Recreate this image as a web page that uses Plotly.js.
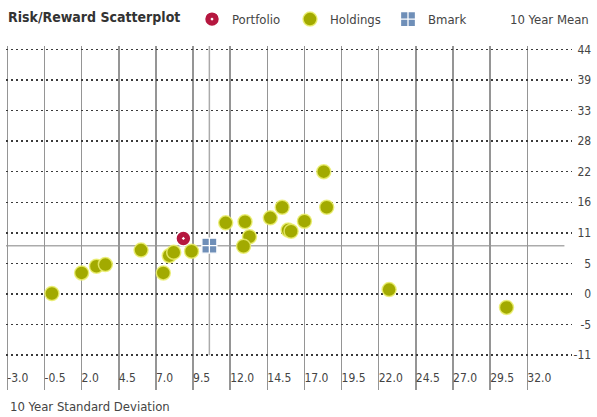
<!DOCTYPE html>
<html>
<head>
<meta charset="utf-8">
<script src="https://cdn.plot.ly/plotly-3.0.1.min.js"></script>
<style>
  html, body { margin: 0; padding: 0; background: #fff; }
  #chart { width: 597px; height: 417px; }
</style>
</head>
<body>
<div id="chart"></div>
<script>
// ---- data ----
const holdingsStd = [0.0, 2.0, 3.0, 3.6, 6.0, 7.5, 7.9, 8.2, 9.4, 11.7, 13.0, 13.3, 12.9, 14.7, 15.5, 15.9, 16.1, 18.3, 18.5, 17.0, 22.7, 30.6];
const holdingsRet = [0.1, 3.8, 5.0, 5.3, 7.9, 3.8, 6.9, 7.5, 7.7, 12.8, 13.0, 10.3, 8.6, 13.7, 15.6, 11.5, 11.3, 22.0, 15.6, 13.1, 0.8, -2.4];
const portfolioStd = [8.85];
const portfolioRet = [10.0];
const bmarkStd = [10.6];
const bmarkRet = [8.7];
const xTickVals = [-3.0, -0.5, 2.0, 4.5, 7.0, 9.5, 12.0, 14.5, 17.0, 19.5, 22.0, 24.5, 27.0, 29.5, 32.0];
const xTickText = ["-3.0", "-0.5", "2.0", "4.5", "7.0", "9.5", "12.0", "14.5", "17.0", "19.5", "22.0", "24.5", "27.0", "29.5", "32.0"];
const yTickVals = [44, 38.5, 33, 27.5, 22, 16.5, 11, 5.5, 0, -5.5, -11];
const yTickText = ["44", "39", "33", "28", "22", "16", "11", "5", "0", "-5", "-11"];

const FONT = '"Liberation Sans Narrow", "DejaVu Sans Condensed", "Roboto", sans-serif';
const xRange = [-3.09, 35.01];
const yRange = [-17.25, 44.6];

const traces = [
  {
    type: 'scatter', mode: 'markers', name: 'Portfolio',
    x: portfolioStd, y: portfolioRet,
    marker: { symbol: 'circle-dot', size: 15, color: '#b5173f', line: { color: '#ffffff', width: 1.6 } }
  },
  {
    type: 'scatter', mode: 'markers', name: 'Holdings',
    x: holdingsStd, y: holdingsRet,
    marker: { symbol: 'circle', size: 14, color: '#a2aa00', line: { color: 'rgba(235,238,110,0.85)', width: 1.5 } }
  },
  {
    type: 'scatter', mode: 'markers', name: 'Bmark',
    x: bmarkStd, y: bmarkRet,
    marker: { symbol: 'square-cross', size: 15, color: '#6f8fb8', line: { color: '#ffffff', width: 1.3 } }
  }
];

const layout = {
  width: 597, height: 417,
  margin: { l: 6, r: 4, t: 44, b: 27, pad: 0 },
  paper_bgcolor: '#ffffff', plot_bgcolor: '#ffffff',
  font: { family: FONT, size: 13, color: '#444' },
  showlegend: true,
  title: {
    text: '<b>Risk/Reward Scatterplot</b>',
    x: 8 / 597, xref: 'container', xanchor: 'left',
    y: 1 - 17 / 417, yref: 'container', yanchor: 'middle',
    font: { family: FONT, size: 14, color: '#333' }
  },
  legend: {
    orientation: 'h',
    x: (192 - 6) / 587, xanchor: 'left',
    y: 1 + 27 / 346, yanchor: 'middle',
    entrywidth: 53, entrywidthmode: 'pixels',
    font: { family: FONT, size: 13, color: '#444' },
    bgcolor: 'rgba(0,0,0,0)',
    itemclick: false
  },
  xaxis: {
    domain: [0, 566 / 587],
    range: xRange,
    tickmode: 'array', tickvals: xTickVals, ticktext: xTickText,
    ticklabelposition: 'inside right',
    ticks: '',
    showgrid: true, gridcolor: '#959595', gridwidth: 1.5,
    zeroline: false, showline: false,
    tickfont: { family: FONT, size: 12, color: '#444' }
  },
  yaxis: {
    range: yRange,
    anchor: 'free', position: 0.997, side: 'left',
    tickmode: 'array', tickvals: yTickVals, ticktext: yTickText,
    ticks: '',
    showgrid: true, gridcolor: '#3a3a3a', gridwidth: 1.5, griddash: '1.5px,3.5px',
    zeroline: false, showline: false,
    tickfont: { family: FONT, size: 12, color: '#444' }
  },
  shapes: [
    { type: 'line', layer: 'below', xref: 'x', yref: 'y', x0: bmarkStd[0], x1: bmarkStd[0], y0: yTickVals[yTickVals.length - 1], y1: yRange[1], line: { color: '#ababab', width: 1.5 } },
    { type: 'line', layer: 'below', xref: 'x', yref: 'y', x0: xRange[0], x1: 34.5, y0: bmarkRet[0], y1: bmarkRet[0], line: { color: '#ababab', width: 1.5 } }
  ],
  annotations: [
    { text: '10 Year Mean', xref: 'paper', yref: 'paper', x: 0.997, y: 1 + 27 / 346, xanchor: 'right', yanchor: 'middle', showarrow: false, font: { family: FONT, size: 13, color: '#444' } },
    { text: '10 Year Standard Deviation', xref: 'paper', yref: 'paper', x: 2 / 587, y: -17 / 346, xanchor: 'left', yanchor: 'middle', showarrow: false, font: { family: FONT, size: 13, color: '#444' } }
  ]
};

Plotly.newPlot('chart', traces, layout, { displayModeBar: false, staticPlot: true });
</script>
</body>
</html>
